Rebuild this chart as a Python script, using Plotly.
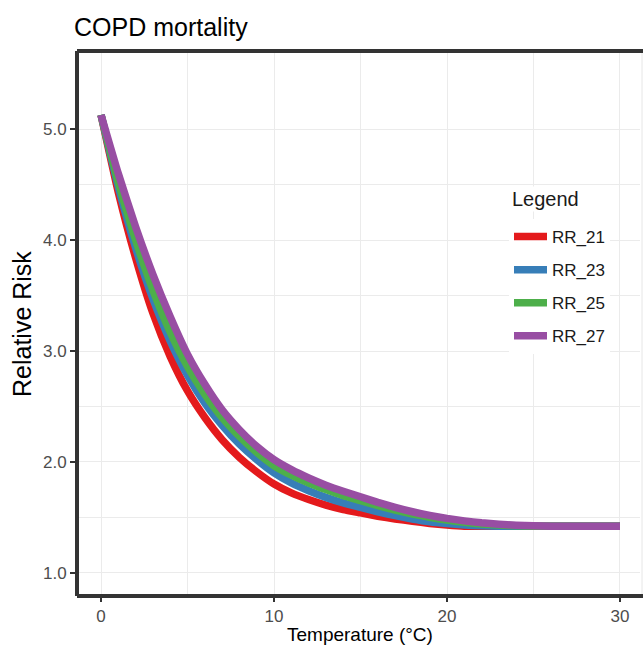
import plotly.graph_objects as go

temperature = list(range(0, 31))

rr_21 = [5.13, 4.43, 3.84, 3.34, 2.95, 2.64, 2.40, 2.20, 2.04, 1.91, 1.80, 1.72, 1.66, 1.61, 1.57, 1.54,
         1.51, 1.485, 1.465, 1.445, 1.43, 1.42, 1.42, 1.42, 1.42, 1.42, 1.42, 1.42, 1.42, 1.42, 1.42]
rr_23 = [5.13, 4.48, 3.93, 3.47, 3.09, 2.78, 2.53, 2.33, 2.16, 2.02, 1.90, 1.81, 1.74, 1.68, 1.63, 1.59,
         1.55, 1.515, 1.485, 1.46, 1.443, 1.43, 1.423, 1.42, 1.42, 1.42, 1.42, 1.42, 1.42, 1.42, 1.42]
rr_25 = [5.13, 4.52, 4.00, 3.55, 3.17, 2.86, 2.61, 2.40, 2.23, 2.085, 1.965, 1.88, 1.81, 1.75, 1.695, 1.65,
         1.605, 1.565, 1.53, 1.50, 1.475, 1.455, 1.44, 1.43, 1.423, 1.42, 1.42, 1.42, 1.42, 1.42, 1.42]
rr_27 = [5.13, 4.60, 4.12, 3.69, 3.31, 2.97, 2.70, 2.47, 2.29, 2.14, 2.02, 1.93, 1.855, 1.79, 1.735, 1.685,
         1.635, 1.59, 1.55, 1.517, 1.49, 1.468, 1.45, 1.437, 1.428, 1.423, 1.42, 1.42, 1.42, 1.42, 1.42]

series_names = ["RR_21", "RR_23", "RR_25", "RR_27"]
series_values = [rr_21, rr_23, rr_25, rr_27]
series_colors = ["#E41A1C", "#377EB8", "#4DAF4A", "#984EA3"]

x_ticks = [0, 10, 20, 30]
y_ticks = [1.0, 2.0, 3.0, 4.0, 5.0]

FONT = "Liberation Sans, Arial, sans-serif"

fig = go.Figure()
for name, vals, col in zip(series_names, series_values, series_colors):
    fig.add_trace(go.Scatter(
        x=temperature, y=vals, mode="lines", name=name, legendgroup=name,
        line=dict(color=col, width=7.5, shape="spline", smoothing=0.5),
    ))

grid = "#ebebeb"
border = "#333333"
# cover the right edge of the plotting area (the panel continues beyond the picture)
fig.add_shape(type="line", xref="paper", yref="paper", x0=1, y0=0, x1=1, y1=1,
              line=dict(color="white", width=6), layer="above")
fig.add_shape(type="line", xref="paper", yref="paper", x0=(642 - 77) / 566, y0=0, x1=(642 - 77) / 566, y1=1,
              line=dict(color="#e6e6e6", width=1), layer="above")
for (x0, y0, x1, y1) in [(0, 0, 0, 1), (0, 1, 1.05, 1), (0, 0, 1.05, 0)]:
    fig.add_shape(type="line", xref="paper", yref="paper", x0=x0, y0=y0, x1=x1, y1=y1,
                  line=dict(color=border, width=4), layer="above")

fig.add_annotation(text="Legend", xref="paper", yref="paper",
                   x=(510 - 77) / 566, y=(596 - 199) / 545, xanchor="left", yanchor="middle",
                   showarrow=False, font=dict(size=20, color="#1a1a1a", family=FONT),
                   bgcolor="white")
fig.add_annotation(text="Relative Risk", xref="paper", yref="paper",
                   x=-(77 - 22) / 566, y=(596 - 324) / 545, xanchor="center", yanchor="middle",
                   textangle=-90, showarrow=False,
                   font=dict(size=25, color="#000000", family=FONT))
fig.add_annotation(text="Temperature (°C)", xref="paper", yref="paper",
                   x=(360 - 77) / 566, y=-(634 - 596) / 545, xanchor="center", yanchor="middle",
                   showarrow=False, borderpad=0,
                   font=dict(size=19, color="#000000", family=FONT))

fig.update_layout(
    width=643, height=646,
    margin=dict(l=77, r=0, t=51, b=50),
    paper_bgcolor="white", plot_bgcolor="white",
    font=dict(family=FONT, color="#1a1a1a"),
    title=dict(text="COPD mortality", x=74/643, xanchor="left", xref="container",
               y=1-27/646, yanchor="middle", yref="container",
               font=dict(size=25, color="#000000", family=FONT)),
    showlegend=True,
    legend=dict(
        font=dict(size=17, color="#1a1a1a"),
        x=(509 - 77) / 566, y=(596 - 219) / 545, xanchor="left", yanchor="top",
        bgcolor="white", tracegroupgap=8, itemwidth=33,
    ),
    xaxis=dict(
        range=[-1.39, 31.33], tickvals=x_ticks, ticktext=[str(v) for v in x_ticks],
        showgrid=True, gridcolor=grid, gridwidth=1,
        minor=dict(tickvals=[5, 15, 25], showgrid=True, gridcolor=grid, gridwidth=0.8, ticks=""),
        zeroline=False, showline=False, automargin=False,
        ticks="outside", ticklen=5, tickcolor=border, tickwidth=1.5,
        tickfont=dict(size=17, color="#4d4d4d"),
    ),
    yaxis=dict(
        range=[0.79, 5.707], tickvals=y_ticks, ticktext=["%.1f" % v for v in y_ticks],
        showgrid=True, gridcolor=grid, gridwidth=1,
        minor=dict(tickvals=[1.5, 2.5, 3.5, 4.5], showgrid=True, gridcolor=grid, gridwidth=0.8, ticks=""),
        zeroline=False, showline=False, automargin=False,
        ticks="outside", ticklen=6, tickcolor=border, tickwidth=1.5,
        tickfont=dict(size=17, color="#4d4d4d"),
    ),
)

fig.write_html("out.html")
